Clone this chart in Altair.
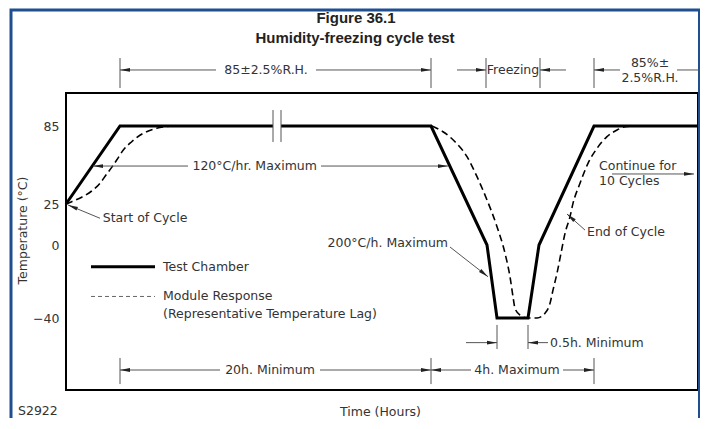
import altair as alt
import pandas as pd

# ---------------- values ----------------
# Temperature axis (°C): schematic, rows are not evenly spaced
Y_TICKS = [85, 25, 0, -40]
Y_ROWS = [33, 111, 152, 225]          # plot row of each tick (schematic spacing)

# Test chamber profile (schematic time units, °C)
CHAMBER_T = [0, 54, 207, 215, 365, 421, 431, 462, 473, 528, 632]
CHAMBER_TEMP = [25, 85, 85, 85, 85, 0, -40, -40, 0, 85, 85]
CHAMBER_SEG = [0, 0, 0, 1, 1, 1, 1, 1, 1, 1, 1]

# Module response (dashed)
MOD_RISE_T = [0, 5.7, 15.7, 25.7, 34, 40, 45.7, 50.7, 57.3, 65.7, 77.3, 90.7, 106]
MOD_RISE_TEMP = [25, 26.8, 30.2, 35, 40.9, 47.3, 53.2, 58.8, 66.5, 72.9, 79.4, 83.2, 85]
MOD_CYCLE_T = [366, 377, 389, 401, 411, 421, 431, 439, 444, 447, 449, 454, 462,
               471, 479, 484, 487, 491, 495, 499, 504, 507, 514, 522, 531, 541, 551, 559, 566]
MOD_CYCLE_TEMP = [85, 80.6, 72.9, 61.4, 46, 28.1, 11.2, -4.5, -17.4, -28.3, -34.7, -38.4, -40,
                  -40, -37.4, -32, -24.7, -15.5, -4.5, 7.1, 17.3, 25.5, 40.9, 56.3, 67.8, 76.8, 81.9, 84.5, 85]

# Thin dimension / leader lines: start (t, °C) -> end (t, °C)
LINE_T1 = [54, 365, 420, 474, 528, 54, 250, 391, 474, 528, 611,
           54, 365, 528, 54, 254, 365, 497,
           431, 462, 400, 462,
           27, 255, 34, 384, 519, 546, 207, 215]
LINE_C1 = [137.3, 137.3, 137.3, 137.3, 137.3, 128.1, 128.1, 128.1, 128.1, 128.1, 128.1,
           -61.9, -61.9, -61.9, -68.5, -68.5, -68.5, -68.5,
           -43.8, -43.8, -53.5, -53.5,
           54.2, 54.2, 16.3, -1.1, 9.1, 48.1, 97.3, 97.3]
LINE_T2 = [54, 365, 420, 474, 528, 150, 365, 420, 500, 554, 634,
           54, 365, 528, 154, 365, 405, 528,
           431, 462, 431, 482,
           122, 382, 2, 422, 501, 628, 207, 215]
LINE_C2 = [114.2, 114.2, 114.2, 114.2, 114.2, 128.1, 128.1, 128.1, 128.1, 128.1, 128.1,
           -76.2, -76.2, -76.2, -68.5, -68.5, -68.5, -68.5,
           -57, -57, -53.5, -53.5,
           54.2, 54.2, 24.4, -17.4, 18.9, 48.1, 72.7, 72.7]

# Arrow heads: tip (t, °C) and direction (degrees, clockwise from right)
ARROW_T = [54, 365, 420, 474, 528, 54, 365, 365, 528, 431, 462, 27, 382, 2, 422, 501, 628]
ARROW_C = [128.1, 128.1, 128.1, 128.1, 128.1, -68.5, -68.5, -68.5, -68.5, -53.5, -53.5,
           54.2, 54.2, 24.4, -17.4, 18.9, 48.1]
ARROW_DIR = [180, 0, 0, 180, 180, 180, 0, 180, 0, 0, 180, 180, 0, 202.6, 38.3, 221.6, 0]

# Labels
LEFT_TXT = ["Start of Cycle", "End of Cycle", "Continue for", "10 Cycles", "0.5h. Minimum",
            "Test Chamber", "Module Response", "(Representative Temperature Lag)", "S2922"]
LEFT_T = [36.7, 521, 533, 533, 484, 97, 97, 97, -48]
LEFT_C = [16.3, 8.1, 54.2, 42.9, -53.5, -11.9, -27.9, -37.8, -91]

MID_TXT = ["120°C/hr. Maximum", "85±2.5%R.H.", "Freezing", "85%±", "2.5%R.H.",
           "20h. Minimum", "4h. Maximum"]
MID_T = [188.7, 200, 447, 584, 584, 204, 451]
MID_C = [54.2, 128.1, 128.1, 133.5, 121.9, -68.5, -68.5]

RIGHT_TXT = ["200°C/h. Maximum"]
RIGHT_T = [382]
RIGHT_C = [1]

# Figure heading
HEAD_TXT = ["Figure 36.1", "Humidity-freezing cycle test"]
HEAD_T = [290, 289]
HEAD_C = [168.3, 152.7]

# Legend keys
LEG_T1 = [25, 25]
LEG_T2 = [89, 89]
LEG_C = [-11.9, -28.2]
LEG_KIND = ["Test Chamber", "Module Response"]

# Outer figure border
BORDER_T = [-55]
BORDER_T2 = [633.5]
BORDER_C = [174.2]
BORDER_C2 = [-106.8]

# ---------------- tables ----------------
chamber = pd.DataFrame({"t": CHAMBER_T, "temp": CHAMBER_TEMP, "seg": CHAMBER_SEG,
                        "o": list(range(len(CHAMBER_T)))})
module = pd.concat([
    pd.DataFrame({"t": MOD_RISE_T, "temp": MOD_RISE_TEMP, "seg": 0}),
    pd.DataFrame({"t": MOD_CYCLE_T, "temp": MOD_CYCLE_TEMP, "seg": 1}),
], ignore_index=True)
module["o"] = range(len(module))
lines = pd.DataFrame({"t": LINE_T1, "temp": LINE_C1, "t2": LINE_T2, "temp2": LINE_C2})
arrows = pd.DataFrame({"t": ARROW_T, "temp": ARROW_C, "dir": ARROW_DIR})
left_txt = pd.DataFrame({"t": LEFT_T, "temp": LEFT_C, "label": LEFT_TXT})
mid_txt = pd.DataFrame({"t": MID_T, "temp": MID_C, "label": MID_TXT})
right_txt = pd.DataFrame({"t": RIGHT_T, "temp": RIGHT_C, "label": RIGHT_TXT})
head_txt = pd.DataFrame({"t": HEAD_T, "temp": HEAD_C, "label": HEAD_TXT})
legend = pd.DataFrame({"t": LEG_T1, "t2": LEG_T2, "temp": LEG_C, "kind": LEG_KIND})
border = pd.DataFrame({"t": BORDER_T, "t2": BORDER_T2, "temp": BORDER_C, "temp2": BORDER_C2})

FONT = "DejaVu Sans"
FS = 12.5
TXT_COLOR = "#333333"

XS = alt.Scale(domain=[0, 632], nice=False, zero=False)
YS = alt.Scale(domain=[-40, 0, 25, 85], range=Y_ROWS[::-1], nice=False, zero=False)

X_AXIS = alt.Axis(
    labels=False, ticks=False, domain=False, grid=False, title="Time (Hours)",
    titleFont=FONT, titleFontSize=FS, titleFontWeight="normal", titleColor=TXT_COLOR,
    titleX=314, titleY=21, titleBaseline="middle", titleAlign="center")
Y_AXIS = alt.Axis(
    values=Y_TICKS, ticks=False, domain=False, grid=False, labelPadding=7,
    labelFont=FONT, labelFontSize=FS, labelColor=TXT_COLOR,
    title="Temperature (°C)", titleFont=FONT, titleFontSize=FS, titleFontWeight="normal",
    titleColor=TXT_COLOR, titleX=-44, titleY=137, titleAngle=270,
    titleAlign="center", titleBaseline="middle")


def X(field="t"):
    return alt.X(f"{field}:Q", scale=XS, axis=X_AXIS)


def Y(field="temp"):
    return alt.Y(f"{field}:Q", scale=YS, axis=Y_AXIS)


border_layer = alt.Chart(border).mark_rect(fill=None, stroke="#1f4f8f", strokeWidth=3).encode(
    x=X(), x2="t2:Q", y=Y(), y2="temp2:Q")

chamber_layer = alt.Chart(chamber).mark_line(color="black", strokeWidth=3, strokeJoin="miter").encode(
    x=X(), y=Y(), detail="seg:N", order="o:Q")

module_layer = alt.Chart(module).mark_line(
    color="black", strokeWidth=1.6, strokeDash=[7, 4], interpolate="monotone").encode(
    x=X(), y=Y(), detail="seg:N", order="o:Q")

lines_layer = alt.Chart(lines).mark_rule(color="#555555", strokeWidth=1).encode(
    x=X(), x2="t2:Q", y=Y(), y2="temp2:Q")

arrow_layer = alt.Chart(arrows).mark_point(
    shape="M0,0L-2,-0.38L-2,0.38Z", filled=True, color="#222222", size=100, opacity=1).encode(
    x=X(), y=Y(), angle=alt.Angle("dir:Q", scale=None))

leg_solid = alt.Chart(legend).transform_filter(alt.datum.kind == "Test Chamber").mark_rule(
    color="black", strokeWidth=3).encode(x=X(), x2="t2:Q", y=Y())
leg_dash = alt.Chart(legend).transform_filter(alt.datum.kind == "Module Response").mark_rule(
    color="#666666", strokeWidth=1, strokeDash=[4, 3]).encode(x=X(), x2="t2:Q", y=Y())


def text_layer(df, align):
    return alt.Chart(df).mark_text(
        align=align, baseline="middle", font=FONT, fontSize=FS, color=TXT_COLOR).encode(
        x=X(), y=Y(), text="label:N")


head_layer = alt.Chart(head_txt).mark_text(
    align="center", baseline="middle", font="Liberation Sans", fontSize=15,
    fontWeight="bold", color="#222222").encode(x=X(), y=Y(), text="label:N")

chart = alt.layer(
    border_layer, chamber_layer, module_layer, lines_layer, arrow_layer,
    leg_solid, leg_dash,
    text_layer(left_txt, "left"), text_layer(mid_txt, "center"), text_layer(right_txt, "right"),
    head_layer,
).properties(
    width=632, height=297,
    autosize=alt.AutoSizeParams(type="none"),
    padding={"left": 58, "top": 85, "right": 2, "bottom": 28},
    background="white",
).configure_view(stroke="black", strokeWidth=2)

chart.save("out.html", embed_options={"renderer": "svg", "actions": False})
